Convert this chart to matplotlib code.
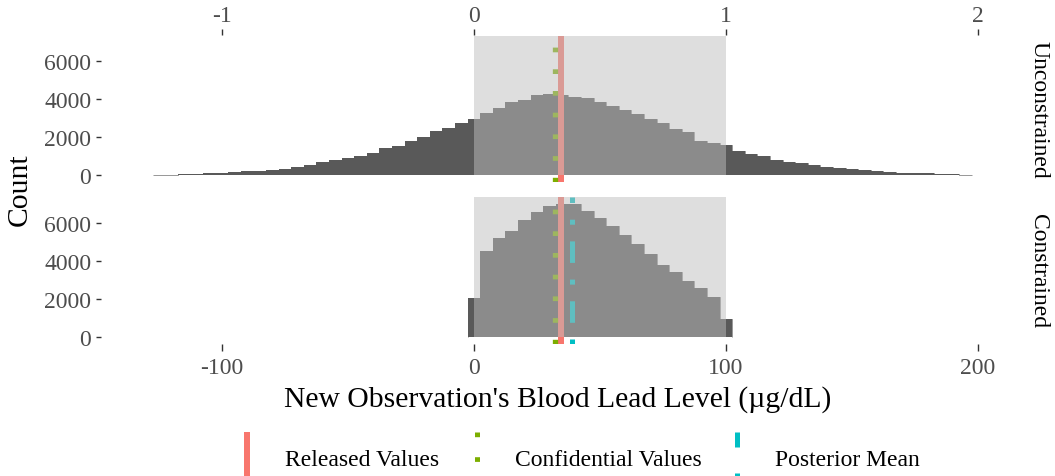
import numpy as np
import matplotlib
matplotlib.use('Agg')
import matplotlib.pyplot as plt
from matplotlib.patches import Rectangle
from matplotlib.lines import Line2D

plt.rcParams['font.family'] = ['Liberation Serif', 'DejaVu Serif']
plt.rcParams['axes.unicode_minus'] = False
plt.rcParams['lines.scale_dashes'] = False

# histogram counts, binwidth 5, bins centred on multiples of 5
BIN_WIDTH = 5
UNC_CENTERS = np.arange(-125, 200, BIN_WIDTH)
UNC_COUNTS = [15, 35, 55, 70, 105, 125, 175, 210, 245, 280,
              350, 440, 545, 700, 810, 895, 1000, 1195, 1455, 1545,
              1805, 2035, 2315, 2475, 2770, 2970, 3285, 3560, 3825, 3940,
              4210, 4255, 4230, 4125, 4070, 3865, 3655, 3437, 3200, 2945,
              2730, 2420, 2300, 1815, 1720, 1585, 1265, 1140, 1020, 810,
              700, 630, 525, 455, 370, 325, 265, 210, 175, 125,
              130, 105, 90, 55, 35]
CON_CENTERS = np.arange(0, 105, BIN_WIDTH)
CON_COUNTS = [2050, 4520, 5165, 5530, 6140, 6555, 6850, 6990, 6960, 6625,
              6225, 5810, 5320, 4850, 4365, 3790, 3425, 2940, 2540, 2070, 925]

RELEASED = 34.5
CONFIDENTIAL = 32.3
POSTERIOR_MEAN = 38.8
BOUND_LO, BOUND_HI = 0, 100

PANELS = ['Unconstrained', 'Constrained']
X_TICKS = [-100, 0, 100, 200]
TOP_TICKS = [-1, 0, 1, 2]
Y_TICKS = [0, 2000, 4000, 6000]
LEGEND_LABELS = ['Released Values', 'Confidential Values', 'Posterior Mean']

RED = '#F8766D'
GREEN = '#7CAE00'
CYAN = '#00BFC4'
BAR = '#595959'

W, H = 1055, 477
PT = 0.72  # points per pixel at dpi 100

XLIM = (-148.0, 214.1)
YLIM = (-350, 7340)
TICK_SZ = 17
TITLE_SZ = 21.3
TXT_GRAY = '#4d4d4d'

DOT = (4.7 * PT, 17 * PT)
DOTDASH = (5 * PT, 16.7 * PT, 21.5 * PT, 16.7 * PT)


def fx(px):
    return px / W


def fy(px):
    return 1 - px / H


def bin_edges(centers):
    centers = np.asarray(centers, dtype=float)
    return np.append(centers - BIN_WIDTH / 2, centers[-1] + BIN_WIDTH / 2)


fig = plt.figure(figsize=(W / 100, H / 100), dpi=100)

left, right = 101, 1013.5
panel_px = [(36.5, 183), (198, 344.5)]
data = [(UNC_CENTERS, UNC_COUNTS), (CON_CENTERS, CON_COUNTS)]

axes = []
for i, (name, (centers, counts)) in enumerate(zip(PANELS, data)):
    top, bot = panel_px[i]
    ax = fig.add_axes([fx(left), fy(bot), fx(right) - fx(left), fy(top) - fy(bot)])
    edges = bin_edges(centers)
    ax.stairs(counts, edges, fill=True, color=BAR, lw=0, zorder=1)
    # outline so the sub-pixel tail bins still show as a sliver
    ax.stairs(counts, edges, fill=False, color=BAR, lw=0.6 * PT, zorder=1)

    ax.axvline(RELEASED, color=RED, lw=6 * PT, solid_capstyle='butt', zorder=2)
    ax.axvline(CONFIDENTIAL, color=GREEN, lw=5.3 * PT, dashes=DOT,
               dash_capstyle='butt', zorder=2)
    if name == 'Constrained':
        ax.axvline(POSTERIOR_MEAN, color=CYAN, lw=5 * PT, dashes=DOTDASH,
                   dash_capstyle='butt', zorder=2)

    # shaded region of allowed values, drawn over the bars
    ax.add_patch(Rectangle((BOUND_LO, 0), BOUND_HI - BOUND_LO, YLIM[1],
                           facecolor='#bebebe', alpha=0.5, lw=0, zorder=3))

    ax.set_xlim(*XLIM)
    ax.set_ylim(*YLIM)
    for s in ax.spines.values():
        s.set_visible(False)
    ax.set_facecolor('none')
    ax.set_yticks(Y_TICKS)
    ax.tick_params(axis='y', length=5.5 * PT, width=1.4 * PT, color='#333333',
                   labelsize=TICK_SZ, labelcolor=TXT_GRAY, pad=3)
    fig.text(fx(1039), fy((top + bot) / 2), name, rotation=-90, ha='center',
             va='center', fontsize=TICK_SZ, color='black')
    axes.append(ax)

ax1, ax2 = axes
ax1.set_xticks([])
sec = ax1.secondary_xaxis('top', functions=(lambda x: x / 100, lambda x: x * 100))
sec.set_xticks(TOP_TICKS)
sec.set_xticklabels([str(t) for t in TOP_TICKS])
for s in sec.spines.values():
    s.set_visible(False)
sec.tick_params(length=6.5 * PT, width=1.4 * PT, color='#333333',
                labelsize=TICK_SZ, labelcolor=TXT_GRAY, pad=2.5)

ax2.set_xticks(X_TICKS)
ax2.set_xticklabels([str(t) for t in X_TICKS])
ax2.tick_params(axis='x', length=6.5 * PT, width=1.4 * PT, color='#333333',
                labelsize=TICK_SZ, labelcolor=TXT_GRAY, pad=5)
ax2.set_xlabel("New Observation's Blood Lead Level (\u00b5g/dL)", fontsize=TITLE_SZ,
               labelpad=5)

fig.text(fx(20), fy(190), 'Count', rotation=90, ha='center', va='center',
         fontsize=TITLE_SZ)

# legend at the bottom, keys are vertical lines like the vlines
key_x = [247, 477, 737]
key_styles = [dict(color=RED, lw=6 * PT, solid_capstyle='butt'),
              dict(color=GREEN, lw=5 * PT, dashes=(4.7 * PT, 20 * PT), dash_capstyle='butt'),
              dict(color=CYAN, lw=5 * PT, dashes=(15 * PT, 26 * PT, 5 * PT, 30 * PT),
                   dash_capstyle='butt')]
for kx, label, st in zip(key_x, LEGEND_LABELS, key_styles):
    fig.add_artist(Line2D([fx(kx), fx(kx)], [fy(433), fy(495)],
                          transform=fig.transFigure, **st))
    fig.text(fx(kx + 38), fy(461), label, ha='left', va='center',
             fontsize=TICK_SZ, color='black')

fig.savefig('out.png', dpi=100)
